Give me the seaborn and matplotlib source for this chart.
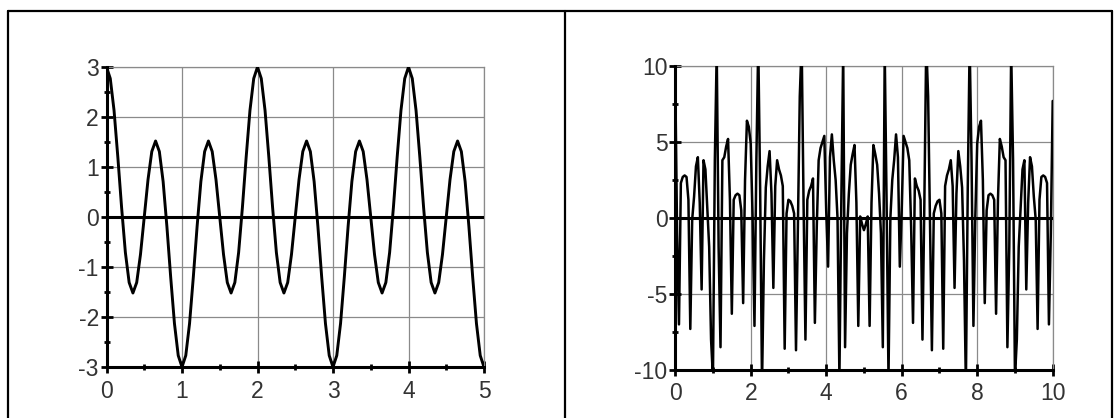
import numpy as np
import matplotlib
matplotlib.use("Agg")
import matplotlib.pyplot as plt
from matplotlib.lines import Line2D
from matplotlib.ticker import MultipleLocator
import seaborn as sns

# ---------------- data ----------------
# left panel: values sampled every 0.05 from x = 0 to 5
left_x = np.round(np.arange(101) * 0.05, 2)
left_y = [
    3.00, 2.77, 2.13, 1.20, 0.19, -0.71, -1.31, -1.52, -1.31, -0.75,
    0.00, 0.75, 1.31, 1.52, 1.31, 0.71, -0.19, -1.20, -2.13, -2.77,
    -3.00, -2.77, -2.13, -1.20, -0.19, 0.71, 1.31, 1.52, 1.31, 0.75,
    0.00, -0.75, -1.31, -1.52, -1.31, -0.71, 0.19, 1.20, 2.13, 2.77,
    3.00, 2.77, 2.13, 1.20, 0.19, -0.71, -1.31, -1.52, -1.31, -0.75,
    0.00, 0.75, 1.31, 1.52, 1.31, 0.71, -0.19, -1.20, -2.13, -2.77,
    -3.00, -2.77, -2.13, -1.20, -0.19, 0.71, 1.31, 1.52, 1.31, 0.75,
    0.00, -0.75, -1.31, -1.52, -1.31, -0.71, 0.19, 1.20, 2.13, 2.77,
    3.00, 2.77, 2.13, 1.20, 0.19, -0.71, -1.31, -1.52, -1.31, -0.75,
    0.00, 0.75, 1.31, 1.52, 1.31, 0.71, -0.19, -1.20, -2.13, -2.77,
    -3.00,
]

# right panel: values sampled every 0.05 from x = 0 to 10 (spikes beyond +-10 are clipped)
right_x = np.round(np.arange(201) * 0.05, 2)
right_y = [
    9.5, -1.0, -7.0, 2.3, 2.7, 2.8, 2.7, 1.2, -7.3, -0.1, 1.4, 3.4, 4.0, 1.0, -4.7, 3.8, 3.2, 0.7, -1.9, -8.0,
    -10.5, 3.8, 11.0, -1.9, -8.5, 3.8, 4.0, 4.7, 5.2, 1.2, -6.3, 1.2, 1.5, 1.6, 1.5, 0.5, -5.6, 2.5, 6.4, 6.0,
    4.9, 0.1, -7.1, 3.8, 11.5, 2.0, -11.0, -2.8, 2.0, 3.4, 4.4, 1.6, -4.6, 2.1, 3.8, 3.2, 2.8, 2.1, -8.6, 0.3,
    1.2, 1.1, 0.8, 0.3, -8.7, -0.6, 8.0, 11.5, 1.0, -8.0, 1.2, 1.8, 2.1, 2.6, -6.9, -0.6, 3.8, 4.6, 5.0, 5.4,
    0.5, -3.2, 4.0, 5.5, 3.8, 2.5, 0.0, -10.5, 1.0, 11.0, -8.5, -1.0, 1.6, 3.5, 4.2, 4.8, 1.0, -7.1, 0.1, -0.4,
    -0.8, -0.4, 0.1, -7.1, 1.0, 4.8, 4.2, 3.5, 1.6, -1.0, -8.5, 11.0, 1.0, -10.5, 0.0, 2.5, 3.8, 5.5, 4.0, -3.2,
    0.5, 5.4, 5.0, 4.6, 3.8, -0.6, -6.9, 2.6, 2.1, 1.8, 1.2, -8.0, 1.0, 11.5, 8.0, -0.6, -8.7, 0.3, 0.8, 1.1,
    1.2, 0.3, -8.6, 2.1, 2.8, 3.2, 3.8, 2.1, -4.6, 1.6, 4.4, 3.4, 2.0, -2.8, -11.0, 2.0, 11.5, 3.8, -7.1, 0.1,
    4.9, 6.0, 6.4, 2.5, -5.6, 0.5, 1.5, 1.6, 1.5, 1.2, -6.3, 1.2, 5.2, 4.7, 4.0, 3.8, -8.5, -1.9, 11.0, 3.8,
    -10.5, -8.0, -1.9, 0.7, 3.2, 3.8, -4.7, 1.0, 4.0, 3.4, 1.4, -0.1, -7.3, 1.2, 2.7, 2.8, 2.7, 2.3, -7.0, -1.0,
    7.7,
]

left_xticks = [0, 1, 2, 3, 4, 5]
left_yticks = [-3, -2, -1, 0, 1, 2, 3]
right_xticks = [0, 2, 4, 6, 8, 10]
right_yticks = [-10, -5, 0, 5, 10]

# ---------------- style ----------------
sns.set_style("white")
plt.rcParams["font.family"] = ["Liberation Sans", "DejaVu Sans"]

W, H = 1118, 418
fig = plt.figure(figsize=(W / 100, H / 100), dpi=100)
fig.patch.set_facecolor("white")

ax1 = fig.add_axes([106.5 / W, (H - 367) / H, 377.5 / W, 300 / H])
ax2 = fig.add_axes([675.2 / W, (H - 370) / H, 377.5 / W, 304 / H])

GRID = "#8a8a8a"
FS = 16.5


def style(ax, xlim, ylim, xt, yt, xminor, yminor):
    ax.set_xlim(*xlim)
    ax.set_ylim(*ylim)
    ax.set_xticks(xt)
    ax.set_yticks(yt)
    ax.set_xticklabels([str(v) for v in xt], fontsize=FS, color="#333333")
    ax.set_yticklabels([str(v) for v in yt], fontsize=FS, color="#333333")
    ax.xaxis.set_minor_locator(MultipleLocator(xminor))
    ax.yaxis.set_minor_locator(MultipleLocator(yminor))
    ax.grid(True, which="major", color=GRID, lw=0.9, zorder=1)
    ax.set_axisbelow(True)
    for s in ("top", "right"):
        ax.spines[s].set_color(GRID)
        ax.spines[s].set_linewidth(0.9)
    for s in ("left", "bottom"):
        ax.spines[s].set_color("black")
        ax.spines[s].set_linewidth(2.2)
        ax.spines[s].set_zorder(5)
    ax.axhline(0, color="black", lw=2.2, zorder=3)
    ax.tick_params(which="both", bottom=True, left=True, top=False, right=False)
    ax.tick_params(which="major", direction="inout", length=8, width=2.0, color="black")
    ax.tick_params(which="minor", direction="inout", length=5, width=2.0, color="black")
    ax.tick_params(axis="x", which="major", pad=5)
    ax.tick_params(axis="y", which="major", pad=1.5)
    ax.set_xlabel("")
    ax.set_ylabel("")


sns.lineplot(x=left_x, y=left_y, ax=ax1, color="black", lw=2.1, zorder=4)
sns.lineplot(x=right_x, y=right_y, ax=ax2, color="black", lw=1.8, zorder=4)

style(ax1, (0, 5), (-3, 3), left_xticks, left_yticks, 0.5, 0.5)
style(ax2, (0, 10), (-10, 10), right_xticks, right_yticks, 1, 2.5)

# outer frame with divider
tf = fig.transFigure
fy = 1 - 10.5 / H
for xs, ys in [
    ([7.5 / W, 1112 / W], [fy, fy]),
    ([7.5 / W, 7.5 / W], [0, fy]),
    ([565 / W, 565 / W], [0, fy]),
    ([1112 / W, 1112 / W], [0, fy]),
]:
    fig.add_artist(Line2D(xs, ys, transform=tf, color="black", lw=1.6))

fig.savefig("out.png", dpi=100, facecolor="white")
